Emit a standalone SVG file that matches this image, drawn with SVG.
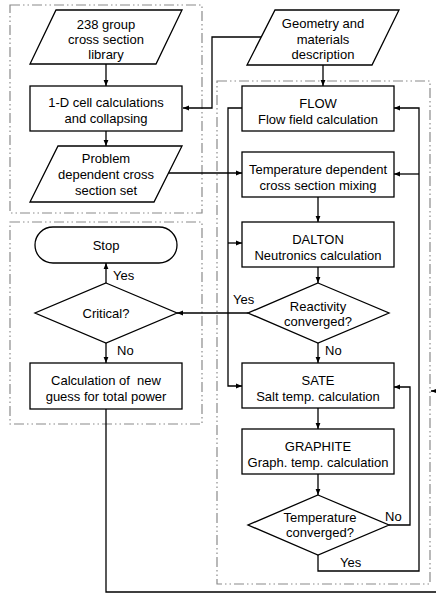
<svg xmlns="http://www.w3.org/2000/svg" width="436" height="595" viewBox="0 0 436 595">
<defs>
<marker id="ah" viewBox="0 0 10 10" refX="10" refY="5" markerWidth="6" markerHeight="6" markerUnits="userSpaceOnUse" orient="auto">
<path d="M0,1 L10,5 L0,9 z" fill="#000"/>
</marker>
<style>
.grp{fill:none;stroke:#8a8a8a;stroke-width:1.2;stroke-dasharray:10,3,1.5,3,1.5,3}
.shape{fill:#fff;stroke:#000;stroke-width:1.3}
.t{font-family:"Liberation Sans",Arial,sans-serif;font-size:13px;fill:#000;text-anchor:middle}
.l{font-family:"Liberation Sans",Arial,sans-serif;font-size:13px;fill:#000}
.pre{white-space:pre}
.c{fill:none;stroke:#000;stroke-width:1.3}
.a{marker-end:url(#ah)}
</style>
</defs>
<rect width="436" height="595" fill="#fff"/>
<g id="groups">
<rect class="grp" x="10" y="5" width="192" height="208"/>
<rect class="grp" x="10" y="222" width="192" height="202"/>
<rect class="grp" x="217" y="81" width="213" height="503"/>
</g>
<g id="connectors">
<path class="c a" d="M106,64 V86"/>
<path class="c a" d="M106,131 V146"/>
<path class="c a" d="M261,37 H212 V108 H183"/>
<path class="c a" d="M323,65 V86"/>
<path class="c a" d="M166,173 H242"/>
<path class="c a" d="M242,108 H228 V386 H242"/>
<path class="c a" d="M228,243 H242"/>
<path class="c a" d="M318,197 V222"/>
<path class="c a" d="M318,267 V283"/>
<path class="c a" d="M248,313 H177"/>
<path class="c a" d="M318,343 V363"/>
<path class="c a" d="M318,408 V429"/>
<path class="c a" d="M318,474 V495"/>
<path class="c a" d="M389,525 H410 V387 H394"/>
<path class="c a" d="M318,555 V571 H419 V108 H394"/>
<path class="c a" d="M419,174 H394"/>
<path class="c a" d="M106,283 V263"/>
<path class="c a" d="M106,343 V363"/>
<path class="c a" d="M106,409 V592 H437 V391 H431"/>
<text class="l" x="113" y="280">Yes</text>
<text class="l" x="117" y="355">No</text>
<text class="l" x="233" y="304">Yes</text>
<text class="l" x="325" y="355">No</text>
<text class="l" x="385" y="521">No</text>
<text class="l" x="340" y="567">Yes</text>
</g>
<g id="library">
<polygon class="shape" points="56,10 182,10 156,64 30,64"/>
<text class="t" x="106" y="29">238 group</text>
<text class="t" x="106" y="44">cross section</text>
<text class="t" x="106" y="59">library</text>
</g>
<g id="cell">
<rect class="shape" x="30" y="86" width="152" height="45"/>
<text class="t" x="106" y="107">1-D cell calculations</text>
<text class="t" x="106" y="123">and collapsing</text>
</g>
<g id="problem">
<polygon class="shape" points="58,146 182,146 154,202 30,202"/>
<text class="t" x="106" y="162.5">Problem</text>
<text class="t" x="106" y="178.5">dependent cross</text>
<text class="t" x="106" y="194.5">section set</text>
</g>
<g id="geometry">
<polygon class="shape" points="275,10 399,10 372,65 247,65"/>
<text class="t" x="323" y="28">Geometry and</text>
<text class="t" x="323" y="43.5">materials</text>
<text class="t" x="323" y="59">description</text>
</g>
<g id="flow">
<rect class="shape" x="242" y="86" width="152" height="45"/>
<text class="t" x="318" y="107.5">FLOW</text>
<text class="t" x="318" y="123.5">Flow field calculation</text>
</g>
<g id="mixing">
<rect class="shape" x="242" y="152" width="152" height="45"/>
<text class="t" x="318" y="173.5">Temperature dependent</text>
<text class="t" x="318" y="189.5">cross section mixing</text>
</g>
<g id="dalton">
<rect class="shape" x="242" y="222" width="152" height="45"/>
<text class="t" x="318" y="243.5">DALTON</text>
<text class="t" x="318" y="259.5">Neutronics calculation</text>
</g>
<g id="reactivity">
<polygon class="shape" points="318,283 389,313 318,343 248,313"/>
<text class="t" x="318" y="311">Reactivity</text>
<text class="t" x="318" y="326">converged?</text>
</g>
<g id="sate">
<rect class="shape" x="242" y="363" width="152" height="45"/>
<text class="t" x="318" y="385">SATE</text>
<text class="t" x="318" y="401">Salt temp. calculation</text>
</g>
<g id="graphite">
<rect class="shape" x="242" y="429" width="152" height="45"/>
<text class="t" x="318" y="451">GRAPHITE</text>
<text class="t" x="318" y="467">Graph. temp. calculation</text>
</g>
<g id="tempconv">
<polygon class="shape" points="318,495 389,525 318,555 248,525"/>
<text class="t" x="320" y="521.5">Temperature</text>
<text class="t" x="320" y="536.5">converged?</text>
</g>
<g id="stop">
<rect class="shape" x="35" y="227" width="142" height="36" rx="18" ry="18"/>
<text class="t" x="106" y="249.5">Stop</text>
</g>
<g id="critical">
<polygon class="shape" points="106,283 177,313 106,343 35,313"/>
<text class="t" x="106" y="318">Critical?</text>
</g>
<g id="guess">
<rect class="shape" x="30" y="363" width="152" height="46"/>
<text class="t pre" x="106" y="385" xml:space="preserve">Calculation of  new</text>
<text class="t" x="106" y="401">guess for total power</text>
</g>
</svg>
